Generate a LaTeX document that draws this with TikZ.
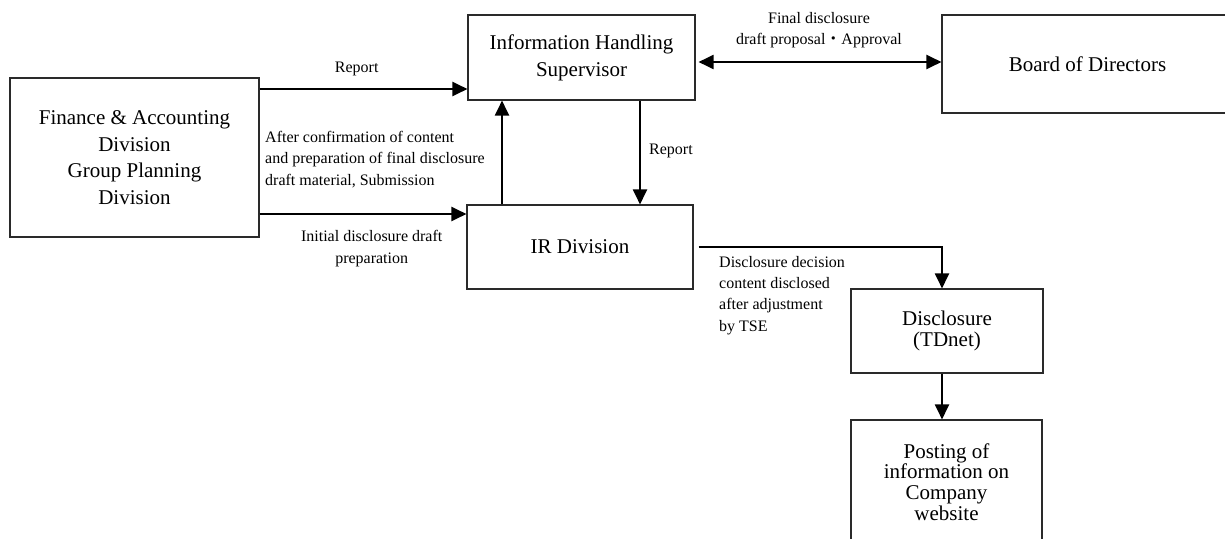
\documentclass[tikz,border=0pt]{standalone}
\usepackage{fontspec}
\setmainfont{Liberation Serif}
\newfontfamily\cjk{Noto Sans CJK JP}
\usetikzlibrary{arrows.meta}
\definecolor{boxgray}{HTML}{2A2A2A}
\begin{document}
\begin{tikzpicture}[x=1pt,y=-1pt,
 box/.style={draw=boxgray,line width=1.1pt,inner sep=0pt,align=center,font=\fontsize{21}{26.7}\selectfont},
 lbl/.style={inner sep=0pt,font=\fontsize{16}{21.3}\selectfont},
 tipT/.tip={Triangle[length=15pt,width=14pt]},
 arr/.style={line width=2pt,-tipT},
 darr/.style={line width=2pt,tipT-tipT},
 ]
\useasboundingbox (0,0) rectangle (1225,538);
% boxes
\node[box,minimum width=249pt,minimum height=159pt] (fin) at (134.5,157.5) {Finance \& Accounting\\Division\\Group Planning\\Division};
\node[box,minimum width=227pt,minimum height=85pt] (ihs) at (581.5,57.5) {Information Handling\\Supervisor};
\node[box,minimum width=226pt,minimum height=84pt] (ir) at (580,247) {IR Division};
\node[box,minimum width=291pt,minimum height=98pt] (bod) at (1087.5,64) {Board of Directors};
\node[box,minimum width=192pt,minimum height=84pt,font=\fontsize{21}{20.7}\selectfont] (disc) at (947,331) {Disclosure\\(TDnet)};
\node[box,minimum width=191pt,minimum height=160pt] (post) at (946.5,500) {};
\node[inner sep=0pt,align=center,font=\fontsize{21}{20.8}\selectfont] (posttext) at (946.5,482) {Posting of\\information on\\Company\\website};
% labels
\node[lbl] (l1) at (356.7,68.5) {Report};
\node[lbl,align=left,anchor=west] (l2) at (265,159.5) {After confirmation of content\\and preparation of final disclosure\\draft material, Submission};
\node[lbl,align=center] (l3) at (371.7,248.5) {Initial disclosure draft\\preparation};
\node[lbl,anchor=west] (l4) at (649,150.5) {Report};
\node[lbl,align=center] (l5) at (819,30) {Final disclosure\\draft proposal{\cjk ・}Approval};
\node[lbl,align=left,anchor=west] (l6) at (719,295.5) {Disclosure decision\\content disclosed\\after adjustment\\by TSE};
% connectors
\draw[arr] (fin.east |- 0,89) -- (ihs.west |- 0,89);
\draw[arr] (fin.east |- 0,214) -- (ir.west |- 0,214);
\draw[arr] (ir.north -| 502,0) -- (ihs.south -| 502,0);
\draw[arr] (ihs.south -| 640,0) -- (ir.north -| 640,0);
\draw[darr,shorten <=3pt] (ihs.east |- 0,62) -- (bod.west |- 0,62);
\draw[arr] ([xshift=5pt]ir.east) -| ([xshift=-5pt]disc.north);
\draw[arr] (disc.south -| 942,0) -- (post.north -| 942,0);
\end{tikzpicture}
\end{document}
